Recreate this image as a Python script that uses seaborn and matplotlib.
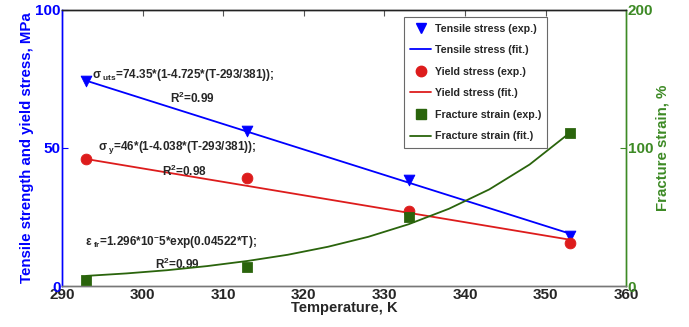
import matplotlib
matplotlib.use("Agg")
import matplotlib.pyplot as plt
import seaborn as sns
import pandas as pd
from matplotlib.lines import Line2D

sns.set_style("white")
plt.rcParams['font.family'] = ['Liberation Sans', 'DejaVu Sans']
plt.rcParams['font.weight'] = 'bold'
plt.rcParams['mathtext.fontset'] = 'custom'
plt.rcParams['mathtext.rm'] = 'Liberation Sans:bold'
plt.rcParams['mathtext.bf'] = 'Liberation Sans:bold'
plt.rcParams['mathtext.it'] = 'Liberation Sans:bold'
plt.rcParams['mathtext.default'] = 'bf'

# Experimental data
temp_exp = [293, 313, 333, 353]
tensile_exp = [74.3, 56.2, 38.4, 18.1]
yield_exp = [46.0, 39.0, 27.2, 15.7]
strain_exp = [4.5, 14.0, 50.0, 111.0]

# Fit curves
temp_fit_lin = [293, 353]
tensile_fit = [74.35, 19.0]
yield_fit = [46.0, 16.8]
temp_fit_exp = [293, 298, 303, 308, 313, 318, 323, 328, 333, 338, 343, 348, 353]
strain_fit = [7.4, 9.2, 11.5, 14.5, 18.2, 22.7, 28.5, 35.7, 44.8, 56.0, 70.0, 88.0, 111.0]

BLUE = '#0000ff'
RED = '#dd1c1c'
GREEN = '#2a640c'
GREEN_AX = '#3d8a25'

df_exp = pd.DataFrame({'T': temp_exp, 'ts': tensile_exp, 'ys': yield_exp, 'fs': strain_exp})
df_lin = pd.DataFrame({'T': temp_fit_lin, 'ts': tensile_fit, 'ys': yield_fit})
df_ex = pd.DataFrame({'T': temp_fit_exp, 'fs': strain_fit})

fig = plt.figure(figsize=(6.89, 3.27), dpi=100)
ax = fig.add_axes([0.090, 0.125, 0.819, 0.845])
ax2 = ax.twinx()

sns.lineplot(data=df_lin, x='T', y='ts', ax=ax, color=BLUE, lw=1.3)
sns.lineplot(data=df_lin, x='T', y='ys', ax=ax, color=RED, lw=1.3)
sns.scatterplot(data=df_exp, x='T', y='ts', ax=ax, color=BLUE, marker='v', s=60, edgecolor=BLUE, zorder=5)
sns.scatterplot(data=df_exp, x='T', y='ys', ax=ax, color=RED, marker='o', s=60, edgecolor=RED, zorder=5)
sns.lineplot(data=df_ex, x='T', y='fs', ax=ax2, color=GREEN, lw=1.3)
sns.scatterplot(data=df_exp, x='T', y='fs', ax=ax2, color=GREEN, marker='s', s=50, edgecolor=GREEN, zorder=5)

ax.set_xlim(290, 360)
ax.set_ylim(0, 100)
ax2.set_ylim(0, 200)
ax.set_xticks([290, 300, 310, 320, 330, 340, 350, 360])
ax.set_yticks([0, 50, 100])
ax2.set_yticks([0, 100, 200])

ax.set_xlabel('Temperature, K', fontsize=10.5, fontweight='bold', labelpad=0)
ax.xaxis.set_label_coords(0.5, -0.055)
ax.set_ylabel('Tensile strength and yield stress, MPa', fontsize=10.8, fontweight='bold', color=BLUE, labelpad=1)
ax2.set_ylabel('Fracture strain, %', fontsize=10.8, fontweight='bold', color=GREEN_AX, labelpad=2)

ax.tick_params(axis='x', direction='in', length=4, labelsize=11, pad=1, top=True, color='#555555')
ax.tick_params(axis='y', direction='in', length=4, labelsize=11, labelcolor=BLUE, color=BLUE, pad=1)
ax2.tick_params(axis='y', direction='in', length=4, labelsize=11, labelcolor=GREEN_AX, color=GREEN_AX, pad=1)
for lab in ax.get_xticklabels() + ax.get_yticklabels() + ax2.get_yticklabels():
    lab.set_fontweight('bold')

for a in (ax, ax2):
    a.spines['left'].set_color(BLUE)
    a.spines['right'].set_color(GREEN_AX)
    a.spines['bottom'].set_color('#777777')
    a.spines['top'].set_color('#222222')
    for s in a.spines.values():
        s.set_linewidth(1.0)

fs = 8.5
ax.text(293.7, 76.4, 'σ$_{\\ uts}$=74.35*(1-4.725*(T-293/381));', fontsize=fs, fontweight='bold', va='center')
ax.text(303.4, 68.0, 'R$^2$=0.99', fontsize=fs, fontweight='bold', va='center')
ax.text(294.5, 50.0, 'σ$_{\\ y}$=46*(1-4.038*(T-293/381));', fontsize=fs, fontweight='bold', va='center')
ax.text(302.4, 41.7, 'R$^2$=0.98', fontsize=fs, fontweight='bold', va='center')
ax.text(292.9, 16.0, 'ε$_{\\ fr}$=1.296*10$^{-}$5*exp(0.04522*T);', fontsize=fs, fontweight='bold', va='center')
ax.text(301.5, 8.0, 'R$^2$=0.99', fontsize=fs, fontweight='bold', va='center')

handles = [
    Line2D([], [], color=BLUE, marker='v', ls='none', ms=7.5),
    Line2D([], [], color=BLUE, lw=1.3),
    Line2D([], [], color=RED, marker='o', ls='none', ms=7.5),
    Line2D([], [], color=RED, lw=1.3),
    Line2D([], [], color=GREEN, marker='s', ls='none', ms=6.5),
    Line2D([], [], color=GREEN, lw=1.3),
]
labels = ['Tensile stress (exp.)', 'Tensile stress (fit.)', 'Yield stress (exp.)',
          'Yield stress (fit.)', 'Fracture strain (exp.)', 'Fracture strain (fit.)']
leg = ax2.legend(handles, labels, loc='upper left', bbox_to_anchor=(0.596, 0.993),
                 prop={'size': 7.7, 'weight': 'bold'}, frameon=True, fancybox=False,
                 edgecolor='#444444', handlelength=2.0, labelspacing=1.08, borderpad=0.6,
                 handletextpad=0.3)
leg.get_frame().set_linewidth(0.8)

fig.savefig('out.png', dpi=100)
